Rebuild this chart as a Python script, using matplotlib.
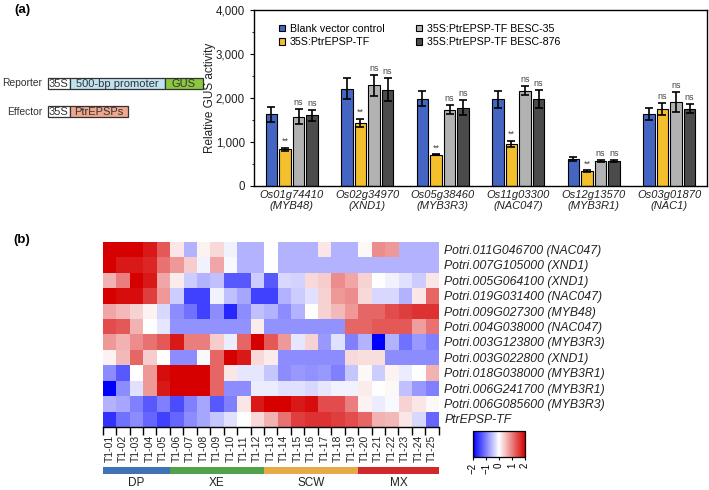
import numpy as np
import matplotlib
matplotlib.use("Agg")
import matplotlib.pyplot as plt
from matplotlib.colors import LinearSegmentedColormap
from matplotlib.patches import Rectangle
from matplotlib.ticker import FuncFormatter, MultipleLocator

plt.rcParams['font.family'] = ['Liberation Sans', 'DejaVu Sans']

# ---- panel (a): GUS reporter assay ----
genes = ["Os01g74410", "Os02g34970", "Os05g38460", "Os11g03300", "Os12g13570", "Os03g01870"]
gene_names = ["MYB48", "XND1", "MYB3R3", "NAC047", "MYB3R1", "NAC1"]
series = ["Blank vector control", "35S:PtrEPSP-TF",
          "35S:PtrEPSP-TF BESC-35", "35S:PtrEPSP-TF BESC-876"]
blank = [1630, 2210, 1985, 1970, 605, 1640]
blank_err = [170, 240, 180, 195, 45, 140]
tf = [825, 1435, 710, 955, 335, 1745]
tf_err = [40, 90, 5, 70, 15, 140]
besc35 = [1575, 2285, 1730, 2160, 560, 1900]
besc35_err = [170, 235, 100, 105, 20, 230]
besc876 = [1600, 2190, 1775, 1975, 560, 1750]
besc876_err = [125, 260, 170, 195, 20, 100]
tf_sig = ["**", "**", "**", "**", "**", "ns"]
besc35_sig = ["ns"] * 6
besc876_sig = ["ns"] * 6
bar_colors = ["#4466c2", "#f3bf2c", "#b2b2b2", "#4b4b4b"]

# ---- panel (b): expression heatmap ----
samples = ["T1-%02d" % i for i in range(1, 26)]
row_labels = ["Potri.011G046700 (NAC047)", "Potri.007G105000 (XND1)",
              "Potri.005G064100 (XND1)", "Potri.019G031400 (NAC047)",
              "Potri.009G027300 (MYB48)", "Potri.004G038000 (NAC047)",
              "Potri.003G123800 (MYB3R3)", "Potri.003G022800 (XND1)",
              "Potri.018G038000 (MYB3R1)", "Potri.006G241700 (MYB3R1)",
              "Potri.006G085600 (MYB3R3)", "PtrEPSP-TF"]
expr = np.array([
    [2.0, 2.0, 2.0, 1.8, 1.3, 0.2, -0.6, 0.1, 0.3, -0.1, -0.6, -0.6, 0.0, -0.6, -0.6, -0.6, 0.2, -0.6, -0.6, 0.05, 0.9, 0.8, -0.6, -0.6, -0.6],
    [2.0, 1.8, 1.8, 1.7, 1.1, 0.8, 0.4, -0.1, 0.7, -0.05, -0.6, -0.6, 0.0, -0.6, -0.6, -0.6, -0.6, -0.6, -0.6, -0.6, -0.6, -0.6, -0.6, -0.6, -0.6],
    [0.6, 1.0, 2.0, 1.8, 0.7, 0.15, -0.4, -0.6, -0.5, -1.3, -1.3, -0.4, -1.3, -0.3, -0.35, 0.3, 0.4, 0.9, 0.7, 0.35, 0.0, -0.1, -0.25, -0.4, 0.2],
    [2.0, 1.9, 1.9, 1.5, 0.8, -0.4, -1.5, -1.5, -0.1, -0.5, -0.7, -1.5, -1.5, -0.6, -0.4, -0.25, 0.35, 0.8, 0.9, 0.3, -0.3, -0.3, -0.6, 0.2, 1.2],
    [0.7, 0.55, 0.35, 0.1, -0.3, -0.9, -1.1, -1.5, -0.9, -1.7, -0.9, -0.5, -0.6, -0.9, -0.6, 0.0, 0.35, 0.55, 0.8, 1.2, 1.2, 1.4, 1.5, 1.6, 1.6],
    [1.4, 1.3, 0.6, 0.0, -0.2, -0.85, -0.85, -0.85, -0.85, -0.85, -0.85, 0.15, -0.85, -0.85, -0.85, -0.85, -0.85, -0.85, 1.2, 1.2, 1.3, 1.3, 1.3, 0.75, 1.1],
    [0.8, 0.6, 0.9, 1.1, 1.3, 1.8, 1.0, 1.0, 0.4, -0.15, 1.2, 2.0, 1.3, 0.8, -0.2, 0.35, -0.8, -0.25, -1.0, -0.6, -2.0, -0.6, -1.1, -0.8, -1.0],
    [0.1, 0.55, 1.2, 0.4, 0.0, -0.9, -0.9, -0.05, 1.2, 2.0, 1.8, 0.3, 0.15, -0.9, -0.9, -0.9, -0.9, -0.9, 0.3, 0.25, 0.25, -0.9, -0.9, -0.9, -0.9],
    [-0.9, -1.3, 0.0, 0.8, 1.9, 2.0, 2.0, 2.0, 1.2, 0.2, -0.2, -0.2, -0.45, -0.9, -0.8, -0.85, -0.8, -1.0, -0.45, 0.05, -0.4, 0.1, -0.15, 0.0, 0.6],
    [-2.0, -0.9, -0.25, 0.8, 1.8, 2.0, 2.0, 2.0, 1.2, -0.9, -0.9, -0.15, -0.15, -0.25, -0.25, -0.3, -0.2, -0.1, -0.1, 0.15, 0.0, 0.05, -0.5, -0.8, -1.0],
    [-0.6, -0.7, -1.0, -1.3, -1.0, -1.4, -1.0, -0.7, -1.3, -1.0, 0.2, 1.8, 2.0, 2.0, 1.8, 1.9, 1.4, 1.4, 1.0, 0.1, -0.15, -0.05, 0.35, 0.2, 0.05],
    [-1.6, -1.1, -0.9, -1.2, -1.5, -1.2, -0.9, -0.7, -0.45, -0.25, 0.0, 0.3, 0.6, 1.1, 1.5, 1.6, 1.6, 1.5, 1.4, 1.2, 0.6, 0.55, 0.2, -0.3, -1.2],
])
stages = ["DP", "XE", "SCW", "MX"]
stage_start = [0, 5, 12, 19]
stage_len = [5, 7, 7, 6]
stage_colors = ["#3f73b6", "#52a24c", "#e8a947", "#d0282b"]

W, H = 709, 490
fig = plt.figure(figsize=(W / 100, H / 100), dpi=100)

# construct diagram, drawn in pixel coordinates on a full-figure axes
ax_d = fig.add_axes([0, 0, 1, 1])
ax_d.set_xlim(0, W)
ax_d.set_ylim(H, 0)
ax_d.axis('off')
ax_d.text(22, 10, "(a)", fontsize=9.5, fontweight='bold', va='center', ha='center')
ax_d.text(22, 240, "(b)", fontsize=9.5, fontweight='bold', va='center', ha='center')

reporter = [("35S", 47.5, 70, "white"), ("500-bp promoter", 70, 164.5, "#bfe3f0"),
            ("GUS", 164.5, 202.5, "#8cc63f")]
effector = [("35S", 47.5, 70, "white"), ("PtrEPSPs", 70, 128, "#f0a78e")]
for label, parts, y0 in [("Reporter", reporter, 78), ("Effector", effector, 106)]:
    ax_d.text(42.5, y0 + 5.5, label, fontsize=7.4, ha='right', va='center', color='#333333')
    for txt, x0, x1, col in parts:
        ax_d.add_patch(Rectangle((x0, y0), x1 - x0, 11, facecolor=col,
                                 edgecolor='#333333', lw=0.9))
        ax_d.text((x0 + x1) / 2, y0 + 5.8, txt, fontsize=8, ha='center', va='center',
                  color='#333333')

# bar chart
ax = fig.add_axes([254 / W, 1 - 185.7 / H, 453 / W, 175.7 / H])
x = np.arange(len(genes))
step, width = 0.18, 0.155
vals = [blank, tf, besc35, besc876]
errs = [blank_err, tf_err, besc35_err, besc876_err]
sigs = [None, tf_sig, besc35_sig, besc876_sig]
for k in range(4):
    pos = x + (k - 1.5) * step
    ax.bar(pos, vals[k], width, yerr=errs[k], color=bar_colors[k], edgecolor='black',
           linewidth=0.8, label=series[k], capsize=2.8,
           error_kw=dict(elinewidth=1.2, capthick=1.2, ecolor='black'))
    if sigs[k] is not None:
        for p, v, e, s in zip(pos, vals[k], errs[k], sigs[k]):
            ax.text(p, v + e + 45, s, ha='center', va='bottom', fontsize=6.5,
                    color='#444444')
ax.set_xlim(-0.5, len(genes) - 0.5)
ax.set_ylim(0, 4000)
ax.yaxis.set_major_locator(MultipleLocator(1000))
ax.yaxis.set_minor_locator(MultipleLocator(500))
ax.yaxis.set_major_formatter(FuncFormatter(lambda v, p: f"{int(v):,}"))
ax.set_xticks(x)
ax.set_xticklabels([f"{g}\n({n})" for g, n in zip(genes, gene_names)],
                   fontsize=8, style='italic', color='#222222')
ax.tick_params(axis='x', length=0, pad=3)
ax.tick_params(axis='y', which='major', length=3, labelsize=8.3, labelcolor='#222222')
ax.tick_params(axis='y', which='minor', length=1.8)
ax.set_ylabel("Relative GUS activity", fontsize=8.5, color='#222222', labelpad=0)
for s in ax.spines.values():
    s.set_linewidth(1.0)
ax.legend(ncol=2, loc='upper left', bbox_to_anchor=(0.045, 0.945), frameon=False,
          fontsize=7.7, handlelength=0.55, handleheight=0.55, handletextpad=0.5,
          columnspacing=2.9, labelspacing=0.3, borderaxespad=0)

# heatmap
cmap = LinearSegmentedColormap.from_list('bwr_ref', ['#0000ff', '#ffffff', '#d60000'])
hx, hw = 102.7 / W, 336 / W
ax_h = fig.add_axes([hx, 1 - 426.7 / H, hw, 185 / H])
im = ax_h.imshow(expr, cmap=cmap, vmin=-2, vmax=2, aspect='auto', interpolation='nearest')
ax_h.set_xticks(np.arange(len(samples)))
ax_h.set_xticklabels(samples, rotation=90, fontsize=7.5, color='#222222')
ax_h.set_xticks(np.arange(-0.5, len(samples), 1), minor=True)
ax_h.tick_params(axis='x', which='major', length=0, pad=6)
ax_h.tick_params(axis='x', which='minor', length=5.5, width=1.0)
ax_h.yaxis.tick_right()
ax_h.set_yticks(np.arange(len(row_labels)))
ax_h.set_yticklabels(row_labels, fontsize=8.8, style='italic', color='#222222')
ax_h.tick_params(axis='y', length=0, pad=4)
for side in ['top', 'left', 'right']:
    ax_h.spines[side].set_visible(False)
ax_h.spines['bottom'].set_linewidth(1.0)

# developmental stage strip
ax_g = fig.add_axes([hx, 1 - 474 / H, hw, 7 / H])
ax_g.set_xlim(-0.5, len(samples) - 0.5)
ax_g.set_ylim(0, 1)
for st, n, c, name in zip(stage_start, stage_len, stage_colors, stages):
    ax_g.barh(0.5, n, left=st - 0.5, height=1, color=c)
    ax_g.text(st - 0.5 + n / 2, -1.3, name, ha='center', va='center', fontsize=8.5,
              color='#222222')
ax_g.axis('off')

# colour scale
cax = fig.add_axes([473 / W, 1 - 457 / H, 52 / W, 26 / H])
cb = fig.colorbar(im, cax=cax, orientation='horizontal', ticks=[-2, -1, 0, 1, 2])
cb.ax.set_xticklabels(["\u22122", "\u22121", "0", "1", "2"], rotation=90, fontsize=7)
cb.ax.tick_params(length=2.5, pad=1.5)
cb.outline.set_linewidth(0.9)

fig.savefig("out.png", dpi=100)
